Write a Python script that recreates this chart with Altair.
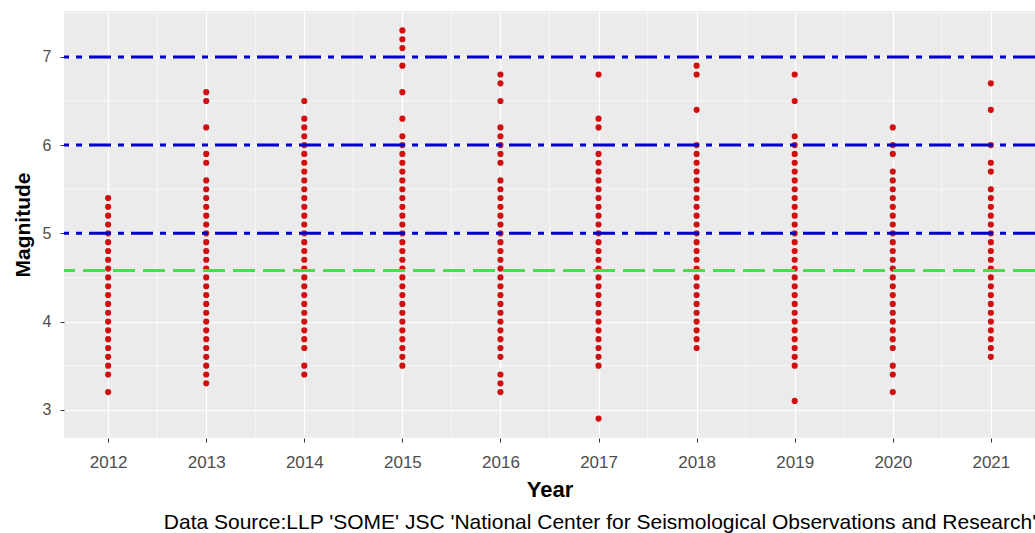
import altair as alt
import pandas as pd

years = [2012, 2013, 2014, 2015, 2016, 2017, 2018, 2019, 2020, 2021]

mag_2012 = [5.4, 5.3, 5.2, 5.1, 5.0, 4.9, 4.8, 4.7, 4.6, 4.5, 4.4, 4.3, 4.2, 4.1, 4.0, 3.9, 3.8, 3.7, 3.6, 3.5, 3.4, 3.2]
mag_2013 = [6.6, 6.5, 6.2, 5.9, 5.8, 5.6, 5.5, 5.4, 5.3, 5.2, 5.1, 5.0, 4.9, 4.8, 4.7, 4.6, 4.5, 4.4, 4.3, 4.2, 4.1, 4.0, 3.9, 3.8, 3.7, 3.6, 3.5, 3.4, 3.3]
mag_2014 = [6.5, 6.3, 6.2, 6.1, 6.0, 5.9, 5.8, 5.7, 5.6, 5.5, 5.4, 5.3, 5.2, 5.1, 5.0, 4.9, 4.8, 4.7, 4.6, 4.5, 4.4, 4.3, 4.2, 4.1, 4.0, 3.9, 3.8, 3.7, 3.5, 3.4]
mag_2015 = [7.3, 7.2, 7.1, 6.9, 6.6, 6.3, 6.1, 6.0, 5.9, 5.8, 5.7, 5.6, 5.5, 5.4, 5.3, 5.2, 5.1, 5.0, 4.9, 4.8, 4.7, 4.6, 4.5, 4.4, 4.3, 4.2, 4.1, 4.0, 3.9, 3.8, 3.7, 3.6, 3.5]
mag_2016 = [6.8, 6.7, 6.5, 6.2, 6.1, 6.0, 5.9, 5.8, 5.6, 5.5, 5.4, 5.3, 5.2, 5.1, 5.0, 4.9, 4.8, 4.7, 4.6, 4.5, 4.4, 4.3, 4.2, 4.1, 4.0, 3.9, 3.8, 3.7, 3.6, 3.4, 3.3, 3.2]
mag_2017 = [6.8, 6.3, 6.2, 5.9, 5.8, 5.7, 5.6, 5.5, 5.4, 5.3, 5.2, 5.1, 5.0, 4.9, 4.8, 4.7, 4.6, 4.5, 4.4, 4.3, 4.2, 4.1, 4.0, 3.9, 3.8, 3.7, 3.6, 3.5, 2.9]
mag_2018 = [6.9, 6.8, 6.4, 6.0, 5.9, 5.8, 5.7, 5.6, 5.5, 5.4, 5.3, 5.2, 5.1, 5.0, 4.9, 4.8, 4.7, 4.6, 4.5, 4.4, 4.3, 4.2, 4.1, 4.0, 3.9, 3.8, 3.7]
mag_2019 = [6.8, 6.5, 6.1, 6.0, 5.9, 5.8, 5.7, 5.6, 5.5, 5.4, 5.3, 5.2, 5.1, 5.0, 4.9, 4.8, 4.7, 4.6, 4.5, 4.4, 4.3, 4.2, 4.1, 4.0, 3.9, 3.8, 3.7, 3.6, 3.5, 3.1]
mag_2020 = [6.2, 6.0, 5.9, 5.7, 5.6, 5.5, 5.4, 5.3, 5.2, 5.1, 5.0, 4.9, 4.8, 4.7, 4.6, 4.5, 4.4, 4.3, 4.2, 4.1, 4.0, 3.9, 3.8, 3.7, 3.5, 3.4, 3.2]
mag_2021 = [6.7, 6.4, 6.0, 5.8, 5.7, 5.5, 5.4, 5.3, 5.2, 5.1, 5.0, 4.9, 4.8, 4.7, 4.6, 4.5, 4.4, 4.3, 4.2, 4.1, 4.0, 3.9, 3.8, 3.7, 3.6]

threshold_lines = [5, 6, 7]
mean_line = [4.58]
y_ticks = [3, 4, 5, 6, 7]
y_minor = [3.5, 4.5, 5.5, 6.5, 7.5]
x_minor = [2011.5, 2012.5, 2013.5, 2014.5, 2015.5, 2016.5, 2017.5, 2018.5, 2019.5, 2020.5, 2021.5]

caption = "Data Source:LLP 'SOME' JSC 'National Center for Seismological Observations and Research'"

all_mags = [mag_2012, mag_2013, mag_2014, mag_2015, mag_2016,
            mag_2017, mag_2018, mag_2019, mag_2020, mag_2021]
rows = []
for yr, mags in zip(years, all_mags):
    for m in mags:
        rows.append({"Year": yr, "Magnitude": m})
df = pd.DataFrame(rows)

FONT = "Liberation Sans"
xscale = alt.Scale(domain=[2011.55, 2021.45], nice=False, zero=False)
yscale = alt.Scale(domain=[2.68, 7.52], nice=False, zero=False)

points = alt.Chart(df).mark_circle(size=38, color="#D01010", opacity=1).encode(
    x=alt.X("Year:Q", scale=xscale,
            axis=alt.Axis(values=years, format="d", title="Year", grid=True,
                          labelPadding=12, titlePadding=9, titleFontSize=22,
                          labelFontSize=17)),
    y=alt.Y("Magnitude:Q", scale=yscale,
            axis=alt.Axis(values=y_ticks, format="d", title="Magnitude", grid=True,
                          labelPadding=9, titlePadding=9, titleFontSize=21,
                          labelFontSize=16)),
)

ygrid_minor = alt.Chart(pd.DataFrame({"v": y_minor})).mark_rule(
    color="white", strokeWidth=0.6).encode(y=alt.Y("v:Q", scale=yscale))
xgrid_minor = alt.Chart(pd.DataFrame({"v": x_minor})).mark_rule(
    color="white", strokeWidth=0.6).encode(x=alt.X("v:Q", scale=xscale))

blue = alt.Chart(pd.DataFrame({"v": threshold_lines})).mark_rule(
    color="#0000C8", strokeWidth=3, strokeDash=[22, 7, 6, 7]).encode(
    y=alt.Y("v:Q", scale=yscale))
green = alt.Chart(pd.DataFrame({"v": mean_line})).mark_rule(
    color="#44E044", strokeWidth=3, strokeDash=[22, 8]).encode(
    y=alt.Y("v:Q", scale=yscale))

chart = alt.layer(ygrid_minor, xgrid_minor, points, blue, green).properties(
    width=971, height=427,
    padding={"left": 64, "top": 11, "right": 0, "bottom": 95},
    autosize=alt.AutoSizeParams(type="none"),
    title=alt.TitleParams(text=caption, orient="bottom", anchor="end",
                          font=FONT, fontSize=21, fontWeight="normal",
                          color="black", offset=12, dx=-4),
).configure_view(
    fill="#EBEBEB", stroke=None
).configure_axis(
    labelFont=FONT, labelColor="#4D4D4D",
    titleFont=FONT, titleFontWeight="bold", titleColor="black",
    gridColor="white", gridWidth=1.2, domain=False,
    tickColor="#333333", tickSize=4, tickWidth=1,
)

chart.save("out.html", embed_options={"renderer": "svg", "actions": False})
